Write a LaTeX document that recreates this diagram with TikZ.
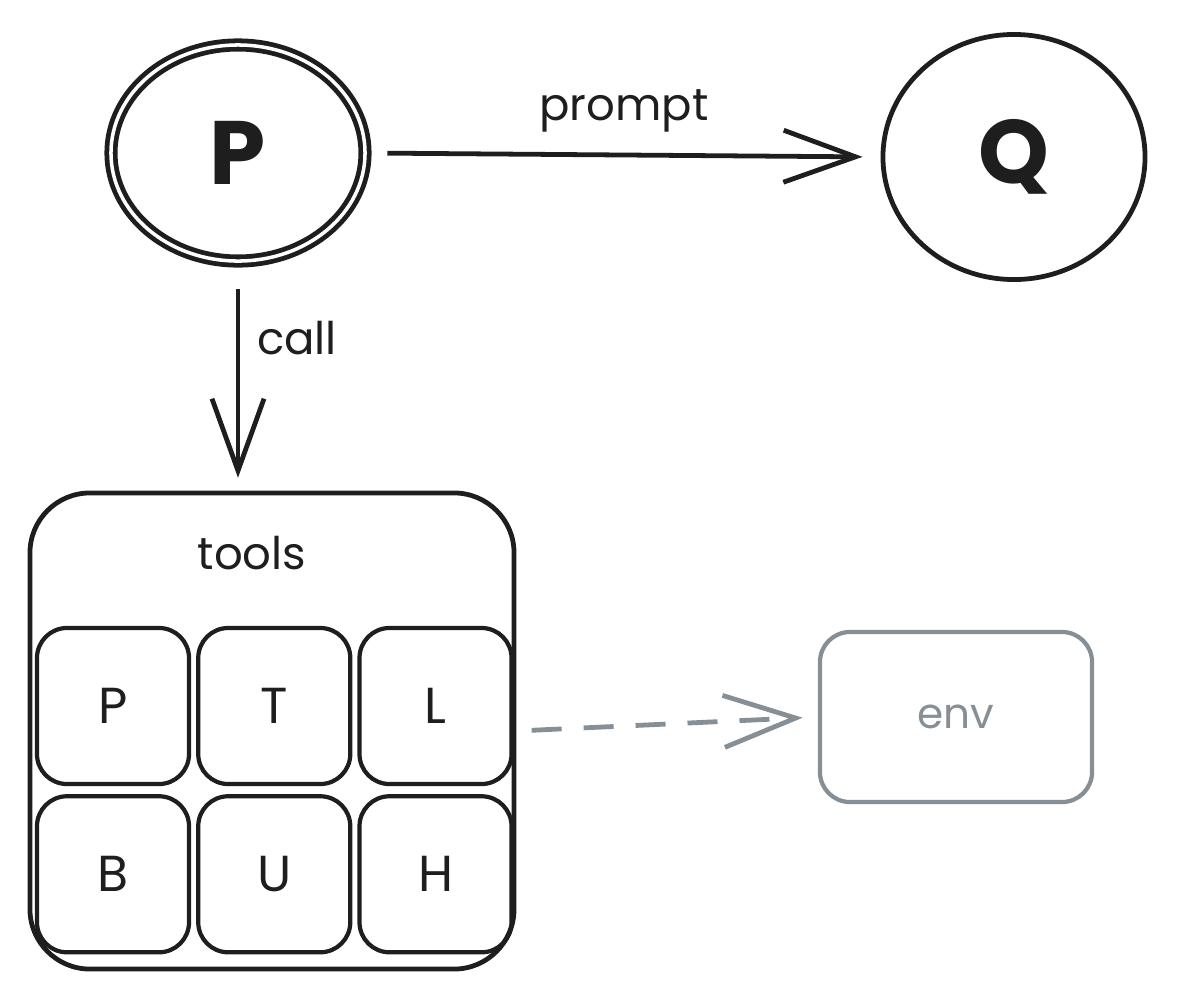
\documentclass[tikz,border=0pt]{standalone}
\usepackage{fontspec}
\setmainfont{Poppins}
\usetikzlibrary{arrows.meta, positioning, shapes.geometric}
\definecolor{ink}{HTML}{1E1E1E}
\definecolor{dim}{HTML}{868E96}
\tikzset{
  agent/.style={ellipse,draw=ink,line width=3.4pt,font=\fontsize{64}{70}\selectfont\bfseries,text=ink},
  group/.style={rectangle,draw=ink,line width=3.4pt,rounded corners=1.5cm,minimum width=12.1cm,minimum height=11.9cm},
  toolbox/.style={rectangle,draw=ink,line width=3pt,rounded corners=0.75cm,minimum width=3.8cm,minimum height=3.9cm,font=\fontsize{36}{40}\selectfont,text=ink},
  envbox/.style={rectangle,draw=dim,line width=3pt,rounded corners=0.75cm,minimum width=6.8cm,minimum height=4.25cm,font=\fontsize{30}{36}\selectfont,text=dim},
  lbl/.style={font=\fontsize{32}{38}\selectfont,text=ink},
  line/.style={draw=ink,line width=3.4pt,-{Straight Barb[length=1.8cm,width=1.3cm,line width=3.4pt]}}
}
\begin{document}
\begin{tikzpicture}[x=0.025cm,y=-0.025cm,node distance=0.2cm and 0.125cm]
\useasboundingbox (0,0) rectangle (1177,1002);
\node[agent, double, double distance=2.5pt, minimum width=6.35cm, minimum height=5.4cm] (p) at (238,153) {P};
\node[agent, minimum width=6.55cm, minimum height=6.125cm] (q) at (1014,157) {Q};
\node[group] (tools) at (272,731) {};
\node[lbl] (toolsname) at (252,553) {tools};
% tool grid
\node[toolbox] (tp) at (113,706) {P};
\node[toolbox, right=of tp] (tt) {T};
\node[toolbox, right=of tt] (tl) {L};
\node[toolbox, below=of tp] (tb) {B};
\node[toolbox, right=of tb] (tu) {U};
\node[toolbox, right=of tu] (th) {H};
\node[envbox] (env) at (956,717) {env};
\draw[line, shorten <=0.5cm, shorten >=0.45cm] (p.east) -- node[lbl, above=0.4cm] {prompt} (q.west);
\draw[line, shorten <=0.65cm, shorten >=0.32cm] (p.south) -- node[lbl, right=0.3cm, pos=0.33] {call} (p.south |- tools.north);
\draw[line, draw=dim, dash pattern=on 0.75cm off 0.55cm, shorten <=0.38cm, shorten >=0.38cm] (tools.east) -- (env.west);
\end{tikzpicture}
\end{document}
